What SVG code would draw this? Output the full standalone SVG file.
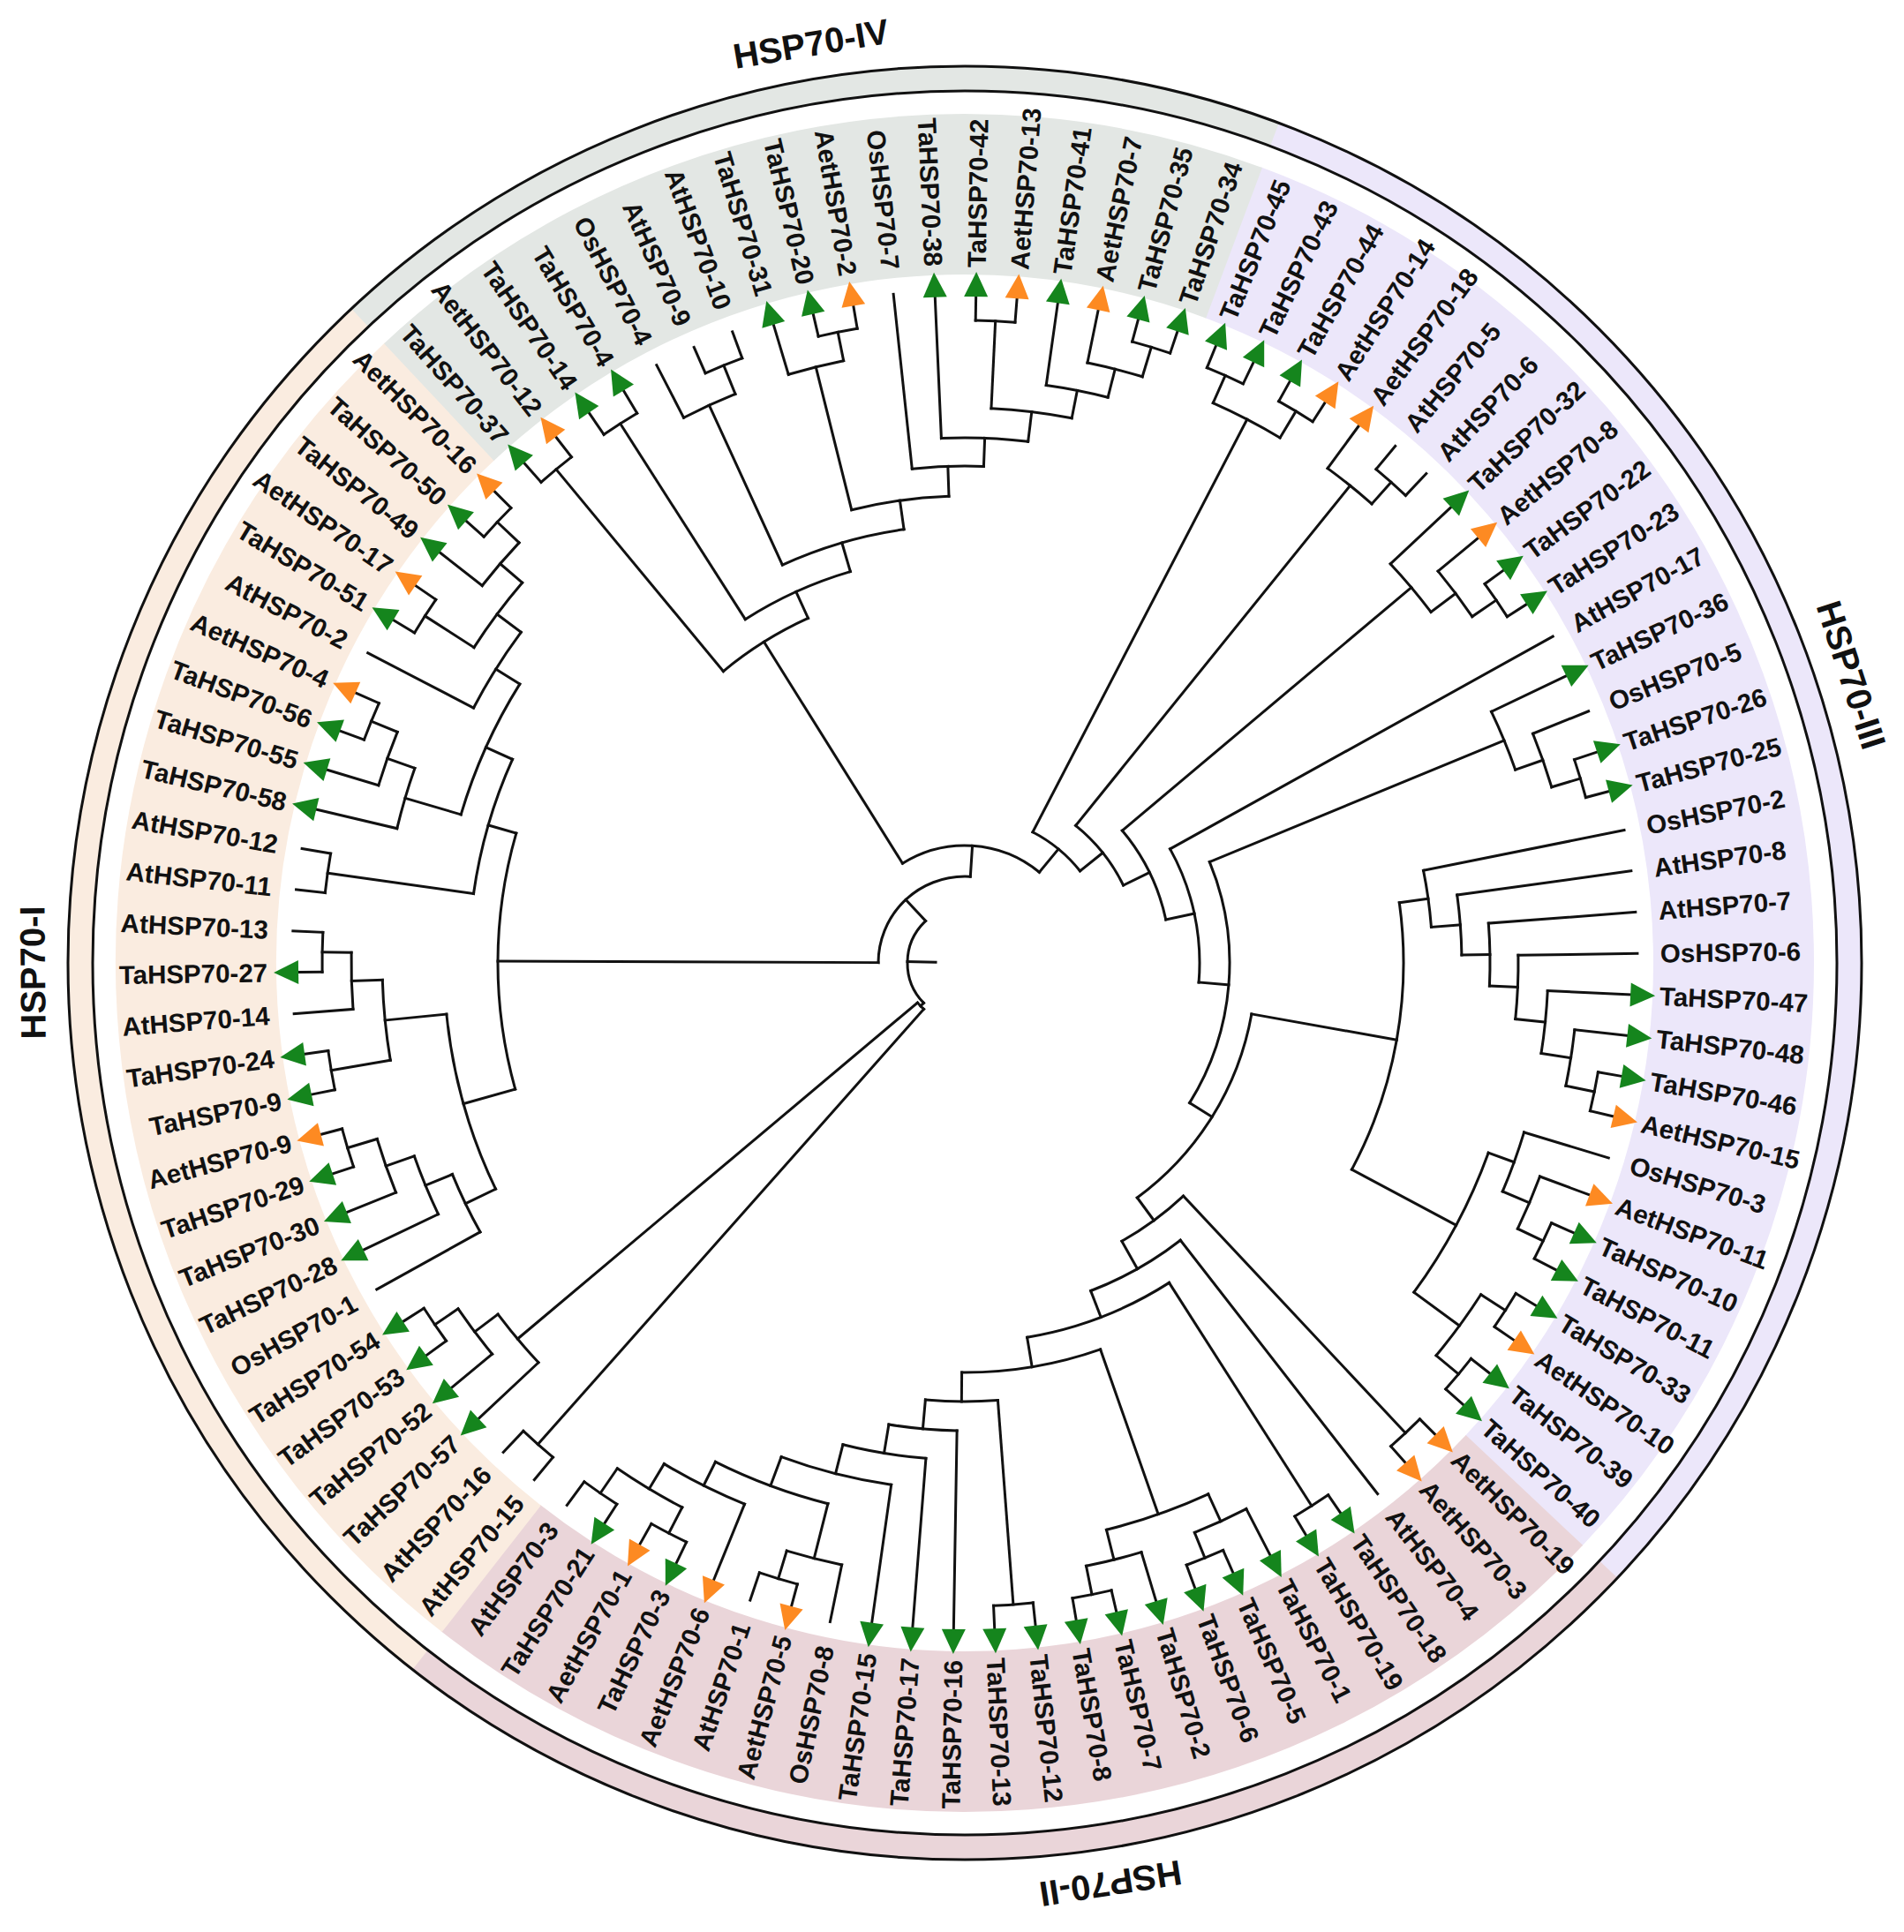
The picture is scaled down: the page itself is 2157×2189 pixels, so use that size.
<svg xmlns="http://www.w3.org/2000/svg" width="2157" height="2189" viewBox="0 0 2157 2189">
<style>
.t{font-family:"Liberation Sans",Arial,sans-serif;font-weight:bold;font-size:29.5px;fill:#111;dominant-baseline:central}
.l{text-anchor:end}
.h{font-family:"Liberation Sans",Arial,sans-serif;font-weight:bold;font-size:40px;fill:#111;text-anchor:middle}
#connectors{fill:none;stroke:#111;stroke-width:3;stroke-linecap:square}
#bands circle{fill:none}
</style>
<defs>
<polygon id="g" points="755,-13.5 783,0 755,13.5" fill="#15851d"/>
<polygon id="o" points="755,-13.5 783,0 755,13.5" fill="#fd8a22"/>
</defs>
<rect width="2157" height="2189" fill="#fff"/>
<g transform="translate(1093 1091)">
<g id="bands">
<circle r="871" stroke="#ece7fa" stroke-width="182" pathLength="360" stroke-dasharray="113 400" transform="rotate(290.4)"/>
<circle r="871" stroke="#ead5d9" stroke-width="182" pathLength="360" stroke-dasharray="84.8 400" transform="rotate(43.3)"/>
<circle r="871" stroke="#faece0" stroke-width="182" pathLength="360" stroke-dasharray="98.95 400" transform="rotate(128)"/>
<circle r="871" stroke="#e3e7e4" stroke-width="182" pathLength="360" stroke-dasharray="63.65 400" transform="rotate(226.85)"/>
<circle r="1002" stroke="#ece7fa" stroke-width="28" pathLength="360" stroke-dasharray="113 400" transform="rotate(290.4)"/>
<circle r="1002" stroke="#ead5d9" stroke-width="28" pathLength="360" stroke-dasharray="84.8 400" transform="rotate(43.3)"/>
<circle r="1002" stroke="#faece0" stroke-width="28" pathLength="360" stroke-dasharray="98.95 400" transform="rotate(128)"/>
<circle r="1002" stroke="#e3e7e4" stroke-width="28" pathLength="360" stroke-dasharray="63.65 400" transform="rotate(226.85)"/>
<circle r="988" stroke="#111" stroke-width="3"/>
<circle r="1016" stroke="#111" stroke-width="3"/>
</g>
<g id="titles">
<text class="h" transform="rotate(350.5)" y="-1042">HSP70-IV</text>
<text class="h" transform="rotate(72)" y="-1042">HSP70-III</text>
<text class="h" transform="rotate(171)" y="-1042">HSP70-II</text>
<text class="h" transform="rotate(269.4)" y="-1042">HSP70-I</text>
</g>
<g id="connectors">
<circle r="65" pathLength="360" stroke-dasharray="91.21 400" transform="rotate(135.75)"/>
<circle r="70" pathLength="360" stroke-dasharray="8.38 400" transform="rotate(131.56)"/>
<circle r="729" pathLength="360" stroke-dasharray="3.53 400" transform="rotate(129.79)"/>
<circle r="662" pathLength="360" stroke-dasharray="6.18 400" transform="rotate(136.85)"/>
<circle r="695" pathLength="360" stroke-dasharray="5.3 400" transform="rotate(140.38)"/>
<circle r="727" pathLength="360" stroke-dasharray="3.53 400" transform="rotate(143.91)"/>
<circle r="98" pathLength="360" stroke-dasharray="93.48 400" transform="rotate(180.22)"/>
<circle r="529" pathLength="360" stroke-dasharray="31.82 400" transform="rotate(164.31)"/>
<circle r="590" pathLength="360" stroke-dasharray="20.08 400" transform="rotate(154.27)"/>
<circle r="628" pathLength="360" stroke-dasharray="6.62 400" transform="rotate(150.96)"/>
<circle r="661" pathLength="360" stroke-dasharray="6.18 400" transform="rotate(154.49)"/>
<circle r="695" pathLength="360" stroke-dasharray="5.3 400" transform="rotate(158.02)"/>
<circle r="730" pathLength="360" stroke-dasharray="3.53 400" transform="rotate(161.55)"/>
<circle r="660" pathLength="360" stroke-dasharray="7.94 400" transform="rotate(170.38)"/>
<circle r="728" pathLength="360" stroke-dasharray="3.53 400" transform="rotate(168.61)"/>
<circle r="695" pathLength="360" stroke-dasharray="5.3 400" transform="rotate(175.67)"/>
<circle r="728" pathLength="360" stroke-dasharray="3.53 400" transform="rotate(179.2)"/>
<circle r="562" pathLength="360" stroke-dasharray="16.21 400" transform="rotate(188.03)"/>
<circle r="729" pathLength="360" stroke-dasharray="3.53 400" transform="rotate(186.26)"/>
<circle r="595" pathLength="360" stroke-dasharray="15.66 400" transform="rotate(196.41)"/>
<circle r="661" pathLength="360" stroke-dasharray="6.18 400" transform="rotate(193.32)"/>
<circle r="694" pathLength="360" stroke-dasharray="5.3 400" transform="rotate(196.85)"/>
<circle r="726" pathLength="360" stroke-dasharray="3.53 400" transform="rotate(200.38)"/>
<circle r="627" pathLength="360" stroke-dasharray="9.26 400" transform="rotate(207.44)"/>
<circle r="661" pathLength="360" stroke-dasharray="7.94 400" transform="rotate(212.73)"/>
<circle r="727" pathLength="360" stroke-dasharray="3.53 400" transform="rotate(210.96)"/>
<circle r="694" pathLength="360" stroke-dasharray="5.3 400" transform="rotate(218.02)"/>
<circle r="728" pathLength="360" stroke-dasharray="3.53 400" transform="rotate(221.55)"/>
<circle r="133" pathLength="360" stroke-dasharray="71.45 400" transform="rotate(237.97)"/>
<circle r="429" pathLength="360" stroke-dasharray="15.18 400" transform="rotate(230.38)"/>
<circle r="726" pathLength="360" stroke-dasharray="3.53 400" transform="rotate(228.61)"/>
<circle r="462" pathLength="360" stroke-dasharray="16.27 400" transform="rotate(237.43)"/>
<circle r="725" pathLength="360" stroke-dasharray="3.53 400" transform="rotate(235.67)"/>
<circle r="496" pathLength="360" stroke-dasharray="16.63 400" transform="rotate(245.38)"/>
<circle r="695" pathLength="360" stroke-dasharray="5.3 400" transform="rotate(242.73)"/>
<circle r="730" pathLength="360" stroke-dasharray="3.53 400" transform="rotate(246.26)"/>
<circle r="529" pathLength="360" stroke-dasharray="12.08 400" transform="rotate(255.97)"/>
<circle r="696" pathLength="360" stroke-dasharray="5.3 400" transform="rotate(253.32)"/>
<circle r="729" pathLength="360" stroke-dasharray="3.53 400" transform="rotate(256.85)"/>
<circle r="563" pathLength="360" stroke-dasharray="8.27 400" transform="rotate(263.91)"/>
<circle r="595" pathLength="360" stroke-dasharray="9.48 400" transform="rotate(267.44)"/>
<circle r="629" pathLength="360" stroke-dasharray="8.38 400" transform="rotate(272.73)"/>
<circle r="728" pathLength="360" stroke-dasharray="3.53 400" transform="rotate(270.96)"/>
<circle r="661" pathLength="360" stroke-dasharray="6.18 400" transform="rotate(278.02)"/>
<circle r="694" pathLength="360" stroke-dasharray="5.3 400" transform="rotate(281.55)"/>
<circle r="729" pathLength="360" stroke-dasharray="3.53 400" transform="rotate(285.08)"/>
<circle r="167" pathLength="360" stroke-dasharray="23.96 400" transform="rotate(297.44)"/>
<circle r="694" pathLength="360" stroke-dasharray="7.06 400" transform="rotate(293.91)"/>
<circle r="728" pathLength="360" stroke-dasharray="3.53 400" transform="rotate(292.14)"/>
<circle r="729" pathLength="360" stroke-dasharray="3.53 400" transform="rotate(299.2)"/>
<circle r="200" pathLength="360" stroke-dasharray="24.99 400" transform="rotate(308.91)"/>
<circle r="695" pathLength="360" stroke-dasharray="5.3 400" transform="rotate(306.26)"/>
<circle r="728" pathLength="360" stroke-dasharray="3.53 400" transform="rotate(309.79)"/>
<circle r="233" pathLength="360" stroke-dasharray="27.91 400" transform="rotate(319.94)"/>
<circle r="661" pathLength="360" stroke-dasharray="6.18 400" transform="rotate(316.85)"/>
<circle r="696" pathLength="360" stroke-dasharray="5.3 400" transform="rotate(320.38)"/>
<circle r="729" pathLength="360" stroke-dasharray="3.53 400" transform="rotate(323.91)"/>
<circle r="266" pathLength="360" stroke-dasharray="33.79 400" transform="rotate(330.96)"/>
<circle r="300" pathLength="360" stroke-dasharray="54.33 400" transform="rotate(337.58)"/>
<circle r="661" pathLength="360" stroke-dasharray="6.18 400" transform="rotate(334.49)"/>
<circle r="694" pathLength="360" stroke-dasharray="5.3 400" transform="rotate(338.02)"/>
<circle r="728" pathLength="360" stroke-dasharray="3.53 400" transform="rotate(341.55)"/>
<circle r="330" pathLength="360" stroke-dasharray="43.61 400" transform="rotate(10.105)"/>
<circle r="497" pathLength="360" stroke-dasharray="35.99 400" transform="rotate(-7.89)"/>
<circle r="530" pathLength="360" stroke-dasharray="7.005 400" transform="rotate(-11.39)"/>
<circle r="563" pathLength="360" stroke-dasharray="6.95 400" transform="rotate(-7.86)"/>
<circle r="595" pathLength="360" stroke-dasharray="6.84 400" transform="rotate(-4.33)"/>
<circle r="627" pathLength="360" stroke-dasharray="6.62 400" transform="rotate(-0.8)"/>
<circle r="661" pathLength="360" stroke-dasharray="6.18 400" transform="rotate(2.73)"/>
<circle r="695" pathLength="360" stroke-dasharray="5.3 400" transform="rotate(6.26)"/>
<circle r="728" pathLength="360" stroke-dasharray="3.53 400" transform="rotate(9.79)"/>
<circle r="631" pathLength="360" stroke-dasharray="16.32 400" transform="rotate(19.94)"/>
<circle r="662" pathLength="360" stroke-dasharray="6.18 400" transform="rotate(16.85)"/>
<circle r="695" pathLength="360" stroke-dasharray="5.3 400" transform="rotate(20.38)"/>
<circle r="727" pathLength="360" stroke-dasharray="3.53 400" transform="rotate(23.91)"/>
<circle r="695" pathLength="360" stroke-dasharray="7.06 400" transform="rotate(32.73)"/>
<circle r="728" pathLength="360" stroke-dasharray="3.53 400" transform="rotate(30.96)"/>
<circle r="728" pathLength="360" stroke-dasharray="3.53 400" transform="rotate(38.02)"/>
<circle r="362" pathLength="360" stroke-dasharray="13.72 400" transform="rotate(46.85)"/>
<circle r="730" pathLength="360" stroke-dasharray="3.53 400" transform="rotate(45.08)"/>
<circle r="398" pathLength="360" stroke-dasharray="16.85 400" transform="rotate(52.14)"/>
<circle r="430" pathLength="360" stroke-dasharray="23.12 400" transform="rotate(57.43)"/>
<circle r="730" pathLength="360" stroke-dasharray="3.53 400" transform="rotate(55.67)"/>
<circle r="464" pathLength="360" stroke-dasharray="19.75 400" transform="rotate(70.67)"/>
<circle r="662" pathLength="360" stroke-dasharray="10.59 400" transform="rotate(65.38)"/>
<circle r="696" pathLength="360" stroke-dasharray="5.3 400" transform="rotate(62.73)"/>
<circle r="727" pathLength="360" stroke-dasharray="3.53 400" transform="rotate(66.26)"/>
<circle r="697" pathLength="360" stroke-dasharray="5.3 400" transform="rotate(73.32)"/>
<circle r="730" pathLength="360" stroke-dasharray="3.53 400" transform="rotate(76.85)"/>
<circle r="497" pathLength="360" stroke-dasharray="9.47 400" transform="rotate(85.68)"/>
<circle r="729" pathLength="360" stroke-dasharray="3.53 400" transform="rotate(83.91)"/>
<circle r="530" pathLength="360" stroke-dasharray="8.39 400" transform="rotate(90.96)"/>
<circle r="563" pathLength="360" stroke-dasharray="9.71 400" transform="rotate(94.49)"/>
<circle r="597" pathLength="360" stroke-dasharray="12.36 400" transform="rotate(98.02)"/>
<circle r="632" pathLength="360" stroke-dasharray="12.35 400" transform="rotate(104.2)"/>
<circle r="696" pathLength="360" stroke-dasharray="5.3 400" transform="rotate(101.55)"/>
<circle r="729" pathLength="360" stroke-dasharray="3.53 400" transform="rotate(105.08)"/>
<circle r="662" pathLength="360" stroke-dasharray="8.83 400" transform="rotate(112.14)"/>
<circle r="695" pathLength="360" stroke-dasharray="7.07 400" transform="rotate(117.43)"/>
<circle r="728" pathLength="360" stroke-dasharray="3.53 400" transform="rotate(115.67)"/>
<circle r="729" pathLength="360" stroke-dasharray="3.53 400" transform="rotate(122.73)"/>
<path d="M33 0H65" transform="rotate(181.36)"/>
<path d="M65 0H70" transform="rotate(135.75)"/>
<path d="M70 0H729" transform="rotate(131.56)"/>
<path d="M70 0H662" transform="rotate(139.94)"/>
<path d="M662 0H695" transform="rotate(143.03)"/>
<path d="M695 0H727" transform="rotate(145.68)"/>
<path d="M65 0H98" transform="rotate(226.96)"/>
<path d="M98 0H529" transform="rotate(180.22)"/>
<path d="M529 0H590" transform="rotate(164.31)"/>
<path d="M590 0H628" transform="rotate(154.27)"/>
<path d="M628 0H661" transform="rotate(157.58)"/>
<path d="M661 0H695" transform="rotate(160.67)"/>
<path d="M695 0H730" transform="rotate(163.32)"/>
<path d="M590 0H660" transform="rotate(174.35)"/>
<path d="M660 0H728" transform="rotate(170.38)"/>
<path d="M660 0H695" transform="rotate(178.32)"/>
<path d="M695 0H728" transform="rotate(180.97)"/>
<path d="M529 0H562" transform="rotate(196.13)"/>
<path d="M562 0H729" transform="rotate(188.03)"/>
<path d="M562 0H595" transform="rotate(204.24)"/>
<path d="M595 0H661" transform="rotate(196.41)"/>
<path d="M661 0H694" transform="rotate(199.5)"/>
<path d="M694 0H726" transform="rotate(202.15)"/>
<path d="M595 0H627" transform="rotate(212.07)"/>
<path d="M627 0H661" transform="rotate(216.7)"/>
<path d="M661 0H727" transform="rotate(212.73)"/>
<path d="M661 0H694" transform="rotate(220.67)"/>
<path d="M694 0H728" transform="rotate(223.32)"/>
<path d="M98 0H133" transform="rotate(273.7)"/>
<path d="M133 0H429" transform="rotate(237.97)"/>
<path d="M429 0H726" transform="rotate(230.38)"/>
<path d="M429 0H462" transform="rotate(245.56)"/>
<path d="M462 0H725" transform="rotate(237.43)"/>
<path d="M462 0H496" transform="rotate(253.7)"/>
<path d="M496 0H695" transform="rotate(245.38)"/>
<path d="M695 0H730" transform="rotate(248.03)"/>
<path d="M496 0H529" transform="rotate(262.01)"/>
<path d="M529 0H696" transform="rotate(255.97)"/>
<path d="M696 0H729" transform="rotate(258.62)"/>
<path d="M529 0H563" transform="rotate(268.05)"/>
<path d="M563 0H595" transform="rotate(272.18)"/>
<path d="M595 0H629" transform="rotate(276.92)"/>
<path d="M629 0H728" transform="rotate(272.73)"/>
<path d="M629 0H661" transform="rotate(281.11)"/>
<path d="M661 0H694" transform="rotate(284.2)"/>
<path d="M694 0H729" transform="rotate(286.85)"/>
<path d="M133 0H167" transform="rotate(309.42)"/>
<path d="M167 0H694" transform="rotate(297.44)"/>
<path d="M694 0H728" transform="rotate(293.91)"/>
<path d="M694 0H729" transform="rotate(300.97)"/>
<path d="M167 0H200" transform="rotate(321.4)"/>
<path d="M200 0H695" transform="rotate(308.91)"/>
<path d="M695 0H728" transform="rotate(311.56)"/>
<path d="M200 0H233" transform="rotate(333.9)"/>
<path d="M233 0H661" transform="rotate(319.94)"/>
<path d="M661 0H696" transform="rotate(323.03)"/>
<path d="M696 0H729" transform="rotate(325.68)"/>
<path d="M233 0H266" transform="rotate(347.85)"/>
<path d="M266 0H300" transform="rotate(4.745)"/>
<path d="M300 0H661" transform="rotate(337.58)"/>
<path d="M661 0H694" transform="rotate(340.67)"/>
<path d="M694 0H728" transform="rotate(343.32)"/>
<path d="M300 0H330" transform="rotate(31.91)"/>
<path d="M330 0H497" transform="rotate(10.105)"/>
<path d="M497 0H530" transform="rotate(-7.89)"/>
<path d="M530 0H563" transform="rotate(-4.385)"/>
<path d="M563 0H595" transform="rotate(-0.91)"/>
<path d="M595 0H627" transform="rotate(2.51)"/>
<path d="M627 0H661" transform="rotate(5.82)"/>
<path d="M661 0H695" transform="rotate(8.91)"/>
<path d="M695 0H728" transform="rotate(11.56)"/>
<path d="M497 0H631" transform="rotate(28.1)"/>
<path d="M631 0H662" transform="rotate(19.94)"/>
<path d="M662 0H695" transform="rotate(23.03)"/>
<path d="M695 0H727" transform="rotate(25.68)"/>
<path d="M631 0H695" transform="rotate(36.26)"/>
<path d="M695 0H728" transform="rotate(32.73)"/>
<path d="M695 0H728" transform="rotate(39.79)"/>
<path d="M330 0H362" transform="rotate(53.71)"/>
<path d="M362 0H730" transform="rotate(46.85)"/>
<path d="M362 0H398" transform="rotate(60.57)"/>
<path d="M398 0H430" transform="rotate(68.99)"/>
<path d="M430 0H730" transform="rotate(57.43)"/>
<path d="M430 0H464" transform="rotate(80.55)"/>
<path d="M464 0H662" transform="rotate(70.67)"/>
<path d="M662 0H696" transform="rotate(65.38)"/>
<path d="M696 0H727" transform="rotate(68.03)"/>
<path d="M662 0H697" transform="rotate(75.97)"/>
<path d="M697 0H730" transform="rotate(78.62)"/>
<path d="M464 0H497" transform="rotate(90.42)"/>
<path d="M497 0H729" transform="rotate(85.68)"/>
<path d="M497 0H530" transform="rotate(95.15)"/>
<path d="M530 0H563" transform="rotate(99.35)"/>
<path d="M563 0H597" transform="rotate(104.2)"/>
<path d="M597 0H632" transform="rotate(110.38)"/>
<path d="M632 0H696" transform="rotate(104.2)"/>
<path d="M696 0H729" transform="rotate(106.85)"/>
<path d="M632 0H662" transform="rotate(116.55)"/>
<path d="M662 0H695" transform="rotate(120.97)"/>
<path d="M695 0H728" transform="rotate(117.43)"/>
<path d="M695 0H729" transform="rotate(124.5)"/>
<path d="M627 0H762" transform="rotate(-0.8)"/>
<path d="M661 0H755" transform="rotate(2.73)"/>
<path d="M695 0H755" transform="rotate(6.26)"/>
<path d="M728 0H755" transform="rotate(9.79)"/>
<path d="M728 0H755" transform="rotate(13.32)"/>
<path d="M662 0H762" transform="rotate(16.85)"/>
<path d="M695 0H755" transform="rotate(20.38)"/>
<path d="M727 0H755" transform="rotate(23.91)"/>
<path d="M727 0H755" transform="rotate(27.44)"/>
<path d="M728 0H755" transform="rotate(30.96)"/>
<path d="M728 0H755" transform="rotate(34.49)"/>
<path d="M728 0H755" transform="rotate(38.02)"/>
<path d="M728 0H755" transform="rotate(41.55)"/>
<path d="M730 0H755" transform="rotate(45.08)"/>
<path d="M730 0H755" transform="rotate(48.61)"/>
<path d="M398 0H762" transform="rotate(52.14)"/>
<path d="M730 0H755" transform="rotate(55.67)"/>
<path d="M730 0H755" transform="rotate(59.2)"/>
<path d="M696 0H755" transform="rotate(62.73)"/>
<path d="M727 0H755" transform="rotate(66.26)"/>
<path d="M727 0H755" transform="rotate(69.79)"/>
<path d="M697 0H755" transform="rotate(73.32)"/>
<path d="M730 0H755" transform="rotate(76.85)"/>
<path d="M730 0H755" transform="rotate(80.38)"/>
<path d="M729 0H755" transform="rotate(83.91)"/>
<path d="M729 0H755" transform="rotate(87.44)"/>
<path d="M530 0H755" transform="rotate(90.96)"/>
<path d="M563 0H755" transform="rotate(94.49)"/>
<path d="M597 0H755" transform="rotate(98.02)"/>
<path d="M696 0H762" transform="rotate(101.55)"/>
<path d="M729 0H755" transform="rotate(105.08)"/>
<path d="M729 0H762" transform="rotate(108.61)"/>
<path d="M662 0H755" transform="rotate(112.14)"/>
<path d="M728 0H755" transform="rotate(115.67)"/>
<path d="M728 0H755" transform="rotate(119.2)"/>
<path d="M729 0H755" transform="rotate(122.73)"/>
<path d="M729 0H762" transform="rotate(126.26)"/>
<path d="M729 0H762" transform="rotate(129.79)"/>
<path d="M729 0H762" transform="rotate(133.32)"/>
<path d="M662 0H755" transform="rotate(136.85)"/>
<path d="M695 0H755" transform="rotate(140.38)"/>
<path d="M727 0H755" transform="rotate(143.91)"/>
<path d="M727 0H755" transform="rotate(147.44)"/>
<path d="M628 0H762" transform="rotate(150.96)"/>
<path d="M661 0H755" transform="rotate(154.49)"/>
<path d="M695 0H755" transform="rotate(158.02)"/>
<path d="M730 0H755" transform="rotate(161.55)"/>
<path d="M730 0H755" transform="rotate(165.08)"/>
<path d="M728 0H755" transform="rotate(168.61)"/>
<path d="M728 0H755" transform="rotate(172.14)"/>
<path d="M695 0H762" transform="rotate(175.67)"/>
<path d="M728 0H755" transform="rotate(179.2)"/>
<path d="M728 0H762" transform="rotate(182.73)"/>
<path d="M729 0H762" transform="rotate(186.26)"/>
<path d="M729 0H762" transform="rotate(189.79)"/>
<path d="M661 0H755" transform="rotate(193.32)"/>
<path d="M694 0H755" transform="rotate(196.85)"/>
<path d="M726 0H755" transform="rotate(200.38)"/>
<path d="M726 0H755" transform="rotate(203.91)"/>
<path d="M627 0H762" transform="rotate(207.44)"/>
<path d="M727 0H755" transform="rotate(210.96)"/>
<path d="M727 0H755" transform="rotate(214.49)"/>
<path d="M694 0H755" transform="rotate(218.02)"/>
<path d="M728 0H755" transform="rotate(221.55)"/>
<path d="M728 0H755" transform="rotate(225.08)"/>
<path d="M726 0H755" transform="rotate(228.61)"/>
<path d="M726 0H755" transform="rotate(232.14)"/>
<path d="M725 0H755" transform="rotate(235.67)"/>
<path d="M725 0H755" transform="rotate(239.2)"/>
<path d="M695 0H762" transform="rotate(242.73)"/>
<path d="M730 0H762" transform="rotate(246.26)"/>
<path d="M730 0H762" transform="rotate(249.79)"/>
<path d="M696 0H755" transform="rotate(253.32)"/>
<path d="M729 0H755" transform="rotate(256.85)"/>
<path d="M729 0H755" transform="rotate(260.38)"/>
<path d="M563 0H762" transform="rotate(263.91)"/>
<path d="M595 0H755" transform="rotate(267.44)"/>
<path d="M728 0H755" transform="rotate(270.96)"/>
<path d="M728 0H755" transform="rotate(274.49)"/>
<path d="M661 0H755" transform="rotate(278.02)"/>
<path d="M694 0H755" transform="rotate(281.55)"/>
<path d="M729 0H755" transform="rotate(285.08)"/>
<path d="M729 0H755" transform="rotate(288.61)"/>
<path d="M728 0H755" transform="rotate(292.14)"/>
<path d="M728 0H755" transform="rotate(295.67)"/>
<path d="M729 0H755" transform="rotate(299.2)"/>
<path d="M729 0H755" transform="rotate(302.73)"/>
<path d="M695 0H755" transform="rotate(306.26)"/>
<path d="M728 0H762" transform="rotate(309.79)"/>
<path d="M728 0H762" transform="rotate(313.32)"/>
<path d="M661 0H755" transform="rotate(316.85)"/>
<path d="M696 0H755" transform="rotate(320.38)"/>
<path d="M729 0H755" transform="rotate(323.91)"/>
<path d="M729 0H755" transform="rotate(327.44)"/>
<path d="M266 0H762" transform="rotate(330.96)"/>
<path d="M661 0H755" transform="rotate(334.49)"/>
<path d="M694 0H762" transform="rotate(338.02)"/>
<path d="M728 0H755" transform="rotate(341.55)"/>
<path d="M728 0H755" transform="rotate(345.08)"/>
<path d="M530 0H762" transform="rotate(348.61)"/>
<path d="M563 0H762" transform="rotate(352.14)"/>
<path d="M595 0H762" transform="rotate(355.67)"/>
</g>
<g id="leaves">
<g id="OsHSP70-6" transform="rotate(-0.8)"><text class="t" x="788">OsHSP70-6</text></g>
<g id="TaHSP70-47" transform="rotate(2.73)"><use href="#g"/><text class="t" x="788">TaHSP70-47</text></g>
<g id="TaHSP70-48" transform="rotate(6.26)"><use href="#g"/><text class="t" x="788">TaHSP70-48</text></g>
<g id="TaHSP70-46" transform="rotate(9.79)"><use href="#g"/><text class="t" x="788">TaHSP70-46</text></g>
<g id="AetHSP70-15" transform="rotate(13.32)"><use href="#o"/><text class="t" x="788">AetHSP70-15</text></g>
<g id="OsHSP70-3" transform="rotate(16.85)"><text class="t" x="788">OsHSP70-3</text></g>
<g id="AetHSP70-11" transform="rotate(20.38)"><use href="#o"/><text class="t" x="788">AetHSP70-11</text></g>
<g id="TaHSP70-10" transform="rotate(23.91)"><use href="#g"/><text class="t" x="788">TaHSP70-10</text></g>
<g id="TaHSP70-11" transform="rotate(27.44)"><use href="#g"/><text class="t" x="788">TaHSP70-11</text></g>
<g id="TaHSP70-33" transform="rotate(30.96)"><use href="#g"/><text class="t" x="788">TaHSP70-33</text></g>
<g id="AetHSP70-10" transform="rotate(34.49)"><use href="#o"/><text class="t" x="788">AetHSP70-10</text></g>
<g id="TaHSP70-39" transform="rotate(38.02)"><use href="#g"/><text class="t" x="788">TaHSP70-39</text></g>
<g id="TaHSP70-40" transform="rotate(41.55)"><use href="#g"/><text class="t" x="788">TaHSP70-40</text></g>
<g id="AetHSP70-19" transform="rotate(45.08)"><use href="#o"/><text class="t" x="788">AetHSP70-19</text></g>
<g id="AetHSP70-3" transform="rotate(48.61)"><use href="#o"/><text class="t" x="788">AetHSP70-3</text></g>
<g id="AtHSP70-4" transform="rotate(52.14)"><text class="t" x="788">AtHSP70-4</text></g>
<g id="TaHSP70-18" transform="rotate(55.67)"><use href="#g"/><text class="t" x="788">TaHSP70-18</text></g>
<g id="TaHSP70-19" transform="rotate(59.2)"><use href="#g"/><text class="t" x="788">TaHSP70-19</text></g>
<g id="TaHSP70-1" transform="rotate(62.73)"><use href="#g"/><text class="t" x="788">TaHSP70-1</text></g>
<g id="TaHSP70-5" transform="rotate(66.26)"><use href="#g"/><text class="t" x="788">TaHSP70-5</text></g>
<g id="TaHSP70-6" transform="rotate(69.79)"><use href="#g"/><text class="t" x="788">TaHSP70-6</text></g>
<g id="TaHSP70-2" transform="rotate(73.32)"><use href="#g"/><text class="t" x="788">TaHSP70-2</text></g>
<g id="TaHSP70-7" transform="rotate(76.85)"><use href="#g"/><text class="t" x="788">TaHSP70-7</text></g>
<g id="TaHSP70-8" transform="rotate(80.38)"><use href="#g"/><text class="t" x="788">TaHSP70-8</text></g>
<g id="TaHSP70-12" transform="rotate(83.91)"><use href="#g"/><text class="t" x="788">TaHSP70-12</text></g>
<g id="TaHSP70-13" transform="rotate(87.44)"><use href="#g"/><text class="t" x="788">TaHSP70-13</text></g>
<g id="TaHSP70-16" transform="rotate(90.96)"><use href="#g"/><text class="t l" transform="rotate(180)" x="-790">TaHSP70-16</text></g>
<g id="TaHSP70-17" transform="rotate(94.49)"><use href="#g"/><text class="t l" transform="rotate(180)" x="-790">TaHSP70-17</text></g>
<g id="TaHSP70-15" transform="rotate(98.02)"><use href="#g"/><text class="t l" transform="rotate(180)" x="-790">TaHSP70-15</text></g>
<g id="OsHSP70-8" transform="rotate(101.55)"><text class="t l" transform="rotate(180)" x="-790">OsHSP70-8</text></g>
<g id="AetHSP70-5" transform="rotate(105.08)"><use href="#o"/><text class="t l" transform="rotate(180)" x="-790">AetHSP70-5</text></g>
<g id="AtHSP70-1" transform="rotate(108.61)"><text class="t l" transform="rotate(180)" x="-790">AtHSP70-1</text></g>
<g id="AetHSP70-6" transform="rotate(112.14)"><use href="#o"/><text class="t l" transform="rotate(180)" x="-790">AetHSP70-6</text></g>
<g id="TaHSP70-3" transform="rotate(115.67)"><use href="#g"/><text class="t l" transform="rotate(180)" x="-790">TaHSP70-3</text></g>
<g id="AetHSP70-1" transform="rotate(119.2)"><use href="#o"/><text class="t l" transform="rotate(180)" x="-790">AetHSP70-1</text></g>
<g id="TaHSP70-21" transform="rotate(122.73)"><use href="#g"/><text class="t l" transform="rotate(180)" x="-790">TaHSP70-21</text></g>
<g id="AtHSP70-3" transform="rotate(126.26)"><text class="t l" transform="rotate(180)" x="-790">AtHSP70-3</text></g>
<g id="AtHSP70-15" transform="rotate(129.79)"><text class="t l" transform="rotate(180)" x="-790">AtHSP70-15</text></g>
<g id="AtHSP70-16" transform="rotate(133.32)"><text class="t l" transform="rotate(180)" x="-790">AtHSP70-16</text></g>
<g id="TaHSP70-57" transform="rotate(136.85)"><use href="#g"/><text class="t l" transform="rotate(180)" x="-790">TaHSP70-57</text></g>
<g id="TaHSP70-52" transform="rotate(140.38)"><use href="#g"/><text class="t l" transform="rotate(180)" x="-790">TaHSP70-52</text></g>
<g id="TaHSP70-53" transform="rotate(143.91)"><use href="#g"/><text class="t l" transform="rotate(180)" x="-790">TaHSP70-53</text></g>
<g id="TaHSP70-54" transform="rotate(147.44)"><use href="#g"/><text class="t l" transform="rotate(180)" x="-790">TaHSP70-54</text></g>
<g id="OsHSP70-1" transform="rotate(150.96)"><text class="t l" transform="rotate(180)" x="-790">OsHSP70-1</text></g>
<g id="TaHSP70-28" transform="rotate(154.49)"><use href="#g"/><text class="t l" transform="rotate(180)" x="-790">TaHSP70-28</text></g>
<g id="TaHSP70-30" transform="rotate(158.02)"><use href="#g"/><text class="t l" transform="rotate(180)" x="-790">TaHSP70-30</text></g>
<g id="TaHSP70-29" transform="rotate(161.55)"><use href="#g"/><text class="t l" transform="rotate(180)" x="-790">TaHSP70-29</text></g>
<g id="AetHSP70-9" transform="rotate(165.08)"><use href="#o"/><text class="t l" transform="rotate(180)" x="-790">AetHSP70-9</text></g>
<g id="TaHSP70-9" transform="rotate(168.61)"><use href="#g"/><text class="t l" transform="rotate(180)" x="-790">TaHSP70-9</text></g>
<g id="TaHSP70-24" transform="rotate(172.14)"><use href="#g"/><text class="t l" transform="rotate(180)" x="-790">TaHSP70-24</text></g>
<g id="AtHSP70-14" transform="rotate(175.67)"><text class="t l" transform="rotate(180)" x="-790">AtHSP70-14</text></g>
<g id="TaHSP70-27" transform="rotate(179.2)"><use href="#g"/><text class="t l" transform="rotate(180)" x="-790">TaHSP70-27</text></g>
<g id="AtHSP70-13" transform="rotate(182.73)"><text class="t l" transform="rotate(180)" x="-790">AtHSP70-13</text></g>
<g id="AtHSP70-11" transform="rotate(186.26)"><text class="t l" transform="rotate(180)" x="-790">AtHSP70-11</text></g>
<g id="AtHSP70-12" transform="rotate(189.79)"><text class="t l" transform="rotate(180)" x="-790">AtHSP70-12</text></g>
<g id="TaHSP70-58" transform="rotate(193.32)"><use href="#g"/><text class="t l" transform="rotate(180)" x="-790">TaHSP70-58</text></g>
<g id="TaHSP70-55" transform="rotate(196.85)"><use href="#g"/><text class="t l" transform="rotate(180)" x="-790">TaHSP70-55</text></g>
<g id="TaHSP70-56" transform="rotate(200.38)"><use href="#g"/><text class="t l" transform="rotate(180)" x="-790">TaHSP70-56</text></g>
<g id="AetHSP70-4" transform="rotate(203.91)"><use href="#o"/><text class="t l" transform="rotate(180)" x="-790">AetHSP70-4</text></g>
<g id="AtHSP70-2" transform="rotate(207.44)"><text class="t l" transform="rotate(180)" x="-790">AtHSP70-2</text></g>
<g id="TaHSP70-51" transform="rotate(210.96)"><use href="#g"/><text class="t l" transform="rotate(180)" x="-790">TaHSP70-51</text></g>
<g id="AetHSP70-17" transform="rotate(214.49)"><use href="#o"/><text class="t l" transform="rotate(180)" x="-790">AetHSP70-17</text></g>
<g id="TaHSP70-49" transform="rotate(218.02)"><use href="#g"/><text class="t l" transform="rotate(180)" x="-790">TaHSP70-49</text></g>
<g id="TaHSP70-50" transform="rotate(221.55)"><use href="#g"/><text class="t l" transform="rotate(180)" x="-790">TaHSP70-50</text></g>
<g id="AetHSP70-16" transform="rotate(225.08)"><use href="#o"/><text class="t l" transform="rotate(180)" x="-790">AetHSP70-16</text></g>
<g id="TaHSP70-37" transform="rotate(228.61)"><use href="#g"/><text class="t l" transform="rotate(180)" x="-790">TaHSP70-37</text></g>
<g id="AetHSP70-12" transform="rotate(232.14)"><use href="#o"/><text class="t l" transform="rotate(180)" x="-790">AetHSP70-12</text></g>
<g id="TaHSP70-14" transform="rotate(235.67)"><use href="#g"/><text class="t l" transform="rotate(180)" x="-790">TaHSP70-14</text></g>
<g id="TaHSP70-4" transform="rotate(239.2)"><use href="#g"/><text class="t l" transform="rotate(180)" x="-790">TaHSP70-4</text></g>
<g id="OsHSP70-4" transform="rotate(242.73)"><text class="t l" transform="rotate(180)" x="-790">OsHSP70-4</text></g>
<g id="AtHSP70-9" transform="rotate(246.26)"><text class="t l" transform="rotate(180)" x="-790">AtHSP70-9</text></g>
<g id="AtHSP70-10" transform="rotate(249.79)"><text class="t l" transform="rotate(180)" x="-790">AtHSP70-10</text></g>
<g id="TaHSP70-31" transform="rotate(253.32)"><use href="#g"/><text class="t l" transform="rotate(180)" x="-790">TaHSP70-31</text></g>
<g id="TaHSP70-20" transform="rotate(256.85)"><use href="#g"/><text class="t l" transform="rotate(180)" x="-790">TaHSP70-20</text></g>
<g id="AetHSP70-2" transform="rotate(260.38)"><use href="#o"/><text class="t l" transform="rotate(180)" x="-790">AetHSP70-2</text></g>
<g id="OsHSP70-7" transform="rotate(263.91)"><text class="t l" transform="rotate(180)" x="-790">OsHSP70-7</text></g>
<g id="TaHSP70-38" transform="rotate(267.44)"><use href="#g"/><text class="t l" transform="rotate(180)" x="-790">TaHSP70-38</text></g>
<g id="TaHSP70-42" transform="rotate(270.96)"><use href="#g"/><text class="t" x="788">TaHSP70-42</text></g>
<g id="AetHSP70-13" transform="rotate(274.49)"><use href="#o"/><text class="t" x="788">AetHSP70-13</text></g>
<g id="TaHSP70-41" transform="rotate(278.02)"><use href="#g"/><text class="t" x="788">TaHSP70-41</text></g>
<g id="AetHSP70-7" transform="rotate(281.55)"><use href="#o"/><text class="t" x="788">AetHSP70-7</text></g>
<g id="TaHSP70-35" transform="rotate(285.08)"><use href="#g"/><text class="t" x="788">TaHSP70-35</text></g>
<g id="TaHSP70-34" transform="rotate(288.61)"><use href="#g"/><text class="t" x="788">TaHSP70-34</text></g>
<g id="TaHSP70-45" transform="rotate(292.14)"><use href="#g"/><text class="t" x="788">TaHSP70-45</text></g>
<g id="TaHSP70-43" transform="rotate(295.67)"><use href="#g"/><text class="t" x="788">TaHSP70-43</text></g>
<g id="TaHSP70-44" transform="rotate(299.2)"><use href="#g"/><text class="t" x="788">TaHSP70-44</text></g>
<g id="AetHSP70-14" transform="rotate(302.73)"><use href="#o"/><text class="t" x="788">AetHSP70-14</text></g>
<g id="AetHSP70-18" transform="rotate(306.26)"><use href="#o"/><text class="t" x="788">AetHSP70-18</text></g>
<g id="AtHSP70-5" transform="rotate(309.79)"><text class="t" x="788">AtHSP70-5</text></g>
<g id="AtHSP70-6" transform="rotate(313.32)"><text class="t" x="788">AtHSP70-6</text></g>
<g id="TaHSP70-32" transform="rotate(316.85)"><use href="#g"/><text class="t" x="788">TaHSP70-32</text></g>
<g id="AetHSP70-8" transform="rotate(320.38)"><use href="#o"/><text class="t" x="788">AetHSP70-8</text></g>
<g id="TaHSP70-22" transform="rotate(323.91)"><use href="#g"/><text class="t" x="788">TaHSP70-22</text></g>
<g id="TaHSP70-23" transform="rotate(327.44)"><use href="#g"/><text class="t" x="788">TaHSP70-23</text></g>
<g id="AtHSP70-17" transform="rotate(330.96)"><text class="t" x="788">AtHSP70-17</text></g>
<g id="TaHSP70-36" transform="rotate(334.49)"><use href="#g"/><text class="t" x="788">TaHSP70-36</text></g>
<g id="OsHSP70-5" transform="rotate(338.02)"><text class="t" x="788">OsHSP70-5</text></g>
<g id="TaHSP70-26" transform="rotate(341.55)"><use href="#g"/><text class="t" x="788">TaHSP70-26</text></g>
<g id="TaHSP70-25" transform="rotate(345.08)"><use href="#g"/><text class="t" x="788">TaHSP70-25</text></g>
<g id="OsHSP70-2" transform="rotate(348.61)"><text class="t" x="788">OsHSP70-2</text></g>
<g id="AtHSP70-8" transform="rotate(352.14)"><text class="t" x="788">AtHSP70-8</text></g>
<g id="AtHSP70-7" transform="rotate(355.67)"><text class="t" x="788">AtHSP70-7</text></g>
</g>
</g>
</svg>
